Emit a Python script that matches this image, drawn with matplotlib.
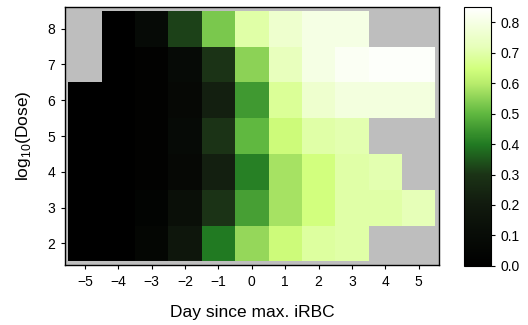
import numpy as np
import matplotlib
matplotlib.use("Agg")
import matplotlib.pyplot as plt
from matplotlib.colors import LinearSegmentedColormap

plt.rcParams['font.family'] = ['Liberation Sans', 'DejaVu Sans']
plt.rcParams['mathtext.fontset'] = 'custom'
plt.rcParams['mathtext.rm'] = 'Liberation Sans'

# days since max. iRBC (columns) and log10 dose (rows)
days = [-5, -4, -3, -2, -1, 0, 1, 2, 3, 4, 5]
doses = [2, 3, 4, 5, 6, 7, 8]
nan = np.nan

# one row per dose, bottom (2) to top (8); nan = no data
values = [
    [0.00, 0.00, 0.05, 0.17, 0.40, 0.56, 0.64, 0.69, 0.70, nan, nan],
    [0.00, 0.00, 0.03, 0.12, 0.30, 0.46, 0.58, 0.65, 0.70, 0.70, 0.72],
    [0.00, 0.00, 0.02, 0.07, 0.22, 0.41, 0.58, 0.65, 0.70, 0.71, nan],
    [0.00, 0.00, 0.02, 0.08, 0.30, 0.50, 0.64, 0.70, 0.71, nan, nan],
    [0.00, 0.00, 0.02, 0.07, 0.22, 0.45, 0.68, 0.76, 0.79, 0.79, 0.79],
    [nan, 0.00, 0.02, 0.08, 0.30, 0.55, 0.73, 0.80, 0.83, 0.84, 0.84],
    [nan, 0.00, 0.08, 0.32, 0.53, 0.70, 0.76, 0.80, 0.80, nan, nan],
]
vmax = 0.85

# black -> dark green -> forest green -> yellow-green -> white
ramp = [
    (0.00, '#000000'),
    (0.10, '#080c07'),
    (0.20, '#111a0e'),
    (0.30, '#1b3316'),
    (0.40, '#217a22'),
    (0.50, '#60b840'),
    (0.60, '#b8ec6c'),
    (0.65, '#d2ff7e'),
    (0.72, '#e6ffb8'),
    (0.85, '#ffffff'),
]
cmap = LinearSegmentedColormap.from_list('greenramp', [(v / vmax, c) for v, c in ramp])

fig = plt.figure(figsize=(5.28, 3.25), dpi=100)
ax = fig.add_axes([0.123, 0.185, 0.708, 0.793])
cax = fig.add_axes([0.879, 0.182, 0.051, 0.796])

ax.set_facecolor('#bebebe')
data = np.ma.masked_invalid(np.array(values))
mesh = ax.pcolormesh(days, doses, data, cmap=cmap, vmin=0, vmax=vmax, shading='nearest')
ax.set_xlim(-5.6, 5.6)
ax.set_ylim(1.4, 8.6)
ax.set_xticks(days)
ax.set_yticks(doses)
ax.tick_params(direction='out', length=3, width=0.8, labelsize=10, pad=4)
for s in ax.spines.values():
    s.set_linewidth(1.0)
ax.set_xlabel('Day since max. iRBC', fontsize=12.5, labelpad=12)
ax.set_ylabel(r'log$_\mathregular{10}$(Dose)', fontsize=12.5, labelpad=10)

cb = fig.colorbar(mesh, cax=cax)
cb.set_ticks(np.arange(0, 0.81, 0.1))
cb.ax.yaxis.set_major_formatter(matplotlib.ticker.FormatStrFormatter('%.1f'))
cb.ax.tick_params(direction='out', length=3, width=0.8, labelsize=10)
cb.outline.set_linewidth(0.8)

fig.savefig('out.png', dpi=100)
